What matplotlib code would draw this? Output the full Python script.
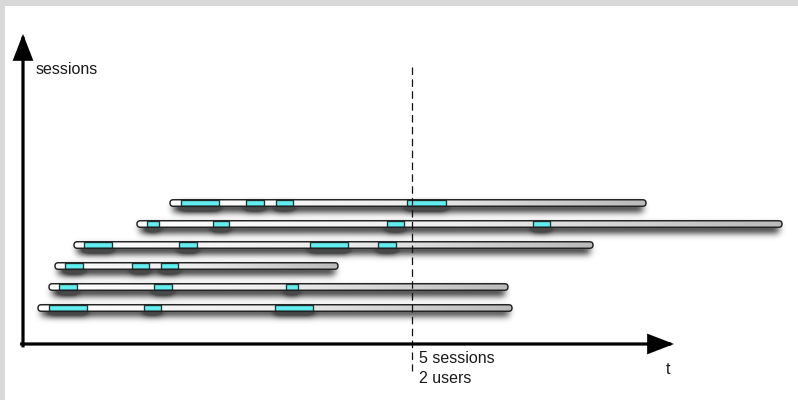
import numpy as np
import matplotlib
matplotlib.use('Agg')
import matplotlib.pyplot as plt
from matplotlib.patches import FancyBboxPatch, Rectangle
from matplotlib.colors import LinearSegmentedColormap

plt.rcParams['font.family'] = ['Liberation Sans', 'DejaVu Sans']

# sessions, bottom (1) to top (6): start / end of each session on the t axis
session_id = [1, 2, 3, 4, 5, 6]
session_start = [15, 26, 32, 51, 114, 147]
session_end = [489, 485, 315, 570, 759, 623]
# active periods inside each session (start, end)
activity = [
    [(26, 64), (121, 138), (252, 290)],
    [(36, 54), (131, 149), (263, 275)],
    [(42, 60), (109, 126), (138, 155)],
    [(61, 89), (156, 174), (287, 325), (355, 373)],
    [(124, 136), (190, 206), (364, 381), (510, 527)],
    [(158, 196), (223, 241), (253, 270), (384, 423)],
]
query_t = 389
query_text = ['5 sessions', '2 users']

# view range (t units ~ 1px, one session row = 21px)
t_min, t_max = -18, 775
k_min, k_max = -3.381, 15.381
row_px = 21.0
bar_h = 6.5 / row_px

fig = plt.figure(figsize=(7.98, 4.0), dpi=100)
fig.patch.set_facecolor('#d9d9d9')
ax = fig.add_axes([5 / 798, 0, 793 / 798, 394 / 400])
ax.set_facecolor('white')
ax.set_xlim(t_min, t_max)
ax.set_ylim(k_min, k_max)
for s in ax.spines.values():
    s.set_visible(False)
ax.set_xticks([])
ax.set_yticks([])

# soft drop shadow, built as a blurred mask on a pixel grid
tt = np.arange(t_min, t_max) + 0.5
kk = np.linspace(k_max, k_min, 394)
mask = np.zeros((len(kk), len(tt)))
off = 5.0 / row_px
for k, a, b, acts in zip(session_id, session_start, session_end, activity):
    rows = np.abs(kk - (k - off)) <= bar_h / 2 + 0.5 / row_px
    cols = (tt >= a + 3) & (tt <= b - 3)
    mask[np.ix_(rows, cols)] += 1.0
    for c0, c1 in acts:
        cols = (tt >= c0) & (tt <= c1)
        mask[np.ix_(rows, cols)] += 0.5

def gauss_blur(img, sigma):
    r = int(3 * sigma)
    x = np.arange(-r, r + 1)
    g = np.exp(-x ** 2 / (2 * sigma ** 2))
    g /= g.sum()
    img = np.apply_along_axis(lambda m: np.convolve(m, g, mode='same'), 0, img)
    img = np.apply_along_axis(lambda m: np.convolve(m, g, mode='same'), 1, img)
    return img

shadow = gauss_blur(mask, 3.4)
rgba = np.zeros((len(kk), len(tt), 4))
rgba[..., 3] = np.clip(shadow * 0.85, 0, 0.72)
ax.imshow(rgba, extent=(t_min, t_max, k_min, k_max), aspect='auto',
          interpolation='bilinear', zorder=1)

grad = LinearSegmentedColormap.from_list('bar', ['#ffffff', '#eeeeee', '#bababa'])
gvals = np.linspace(0, 1, 256).reshape(1, -1)

for k, a, b, acts in zip(session_id, session_start, session_end, activity):
    y0 = k - bar_h / 2
    box = FancyBboxPatch((a, y0), b - a, bar_h,
                         boxstyle='round,pad=0,rounding_size=3.25',
                         mutation_aspect=1 / row_px,
                         facecolor='none', edgecolor='#222222', lw=1.05, zorder=4)
    ax.add_patch(box)
    im = ax.imshow(gvals, cmap=grad, extent=(a, b, y0, y0 + bar_h),
                   aspect='auto', zorder=2)
    im.set_clip_path(box)
    for c0, c1 in acts:
        ax.add_patch(Rectangle((c0, y0), c1 - c0, bar_h, facecolor='#62eef0',
                               edgecolor='#1f3535', lw=0.95, zorder=3))

# query time line
ax.plot([query_t, query_t], [12.48, -2.0], color='#111111', lw=0.9,
        dashes=(6, 3.5), zorder=5)
for i, txt in enumerate(query_text):
    ax.text(query_t + 7, -1.62 - 0.95 * i, txt, fontsize=11.5, color='#1a1a1a',
            va='baseline', ha='left')

# axes arrows
arrow = dict(arrowstyle='-|>,head_length=0.75,head_width=0.29', lw=2.3,
             color='black', shrinkA=0, shrinkB=0, mutation_scale=20,
             joinstyle='miter', capstyle='projecting')
ax.annotate('', xy=(0, 14.05), xytext=(0, -0.8), arrowprops=arrow, zorder=6)
ax.annotate('', xy=(651, -0.714), xytext=(-1.3, -0.714), arrowprops=arrow, zorder=6)

ax.text(13, 12.14, 'sessions', fontsize=11.5, color='#1a1a1a', va='baseline', ha='left')
ax.text(643, -2.14, 't', fontsize=11.5, color='#1a1a1a', va='baseline', ha='left')

fig.savefig('out.png', dpi=100, facecolor=fig.get_facecolor())
